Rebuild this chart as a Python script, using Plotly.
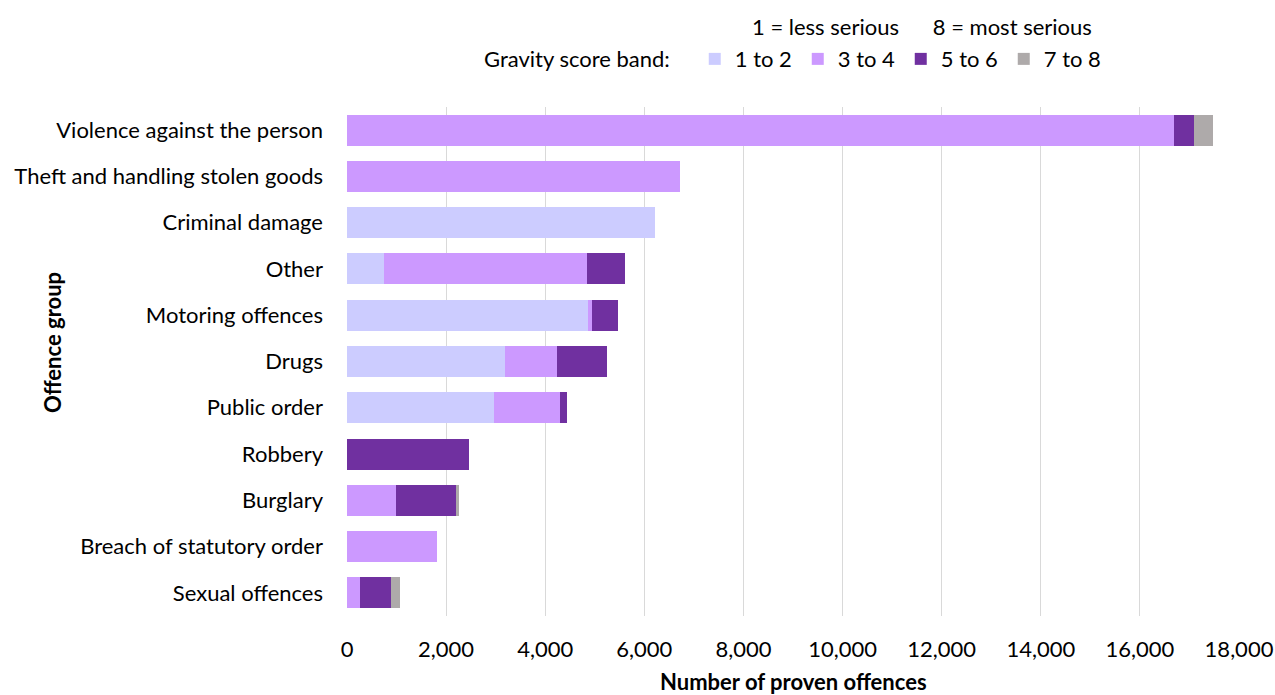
import plotly.graph_objects as go

categories = ["Violence against the person", "Theft and handling stolen goods", "Criminal damage",
              "Other", "Motoring offences", "Drugs", "Public order", "Robbery", "Burglary",
              "Breach of statutory order", "Sexual offences"]
band_names = ["1 to 2", "3 to 4", "5 to 6", "7 to 8"]
band_1_2 = [0, 0, 6224, 746, 4866, 3185, 2964, 0, 0, 0, 0]
band_3_4 = [16694, 6728, 0, 4093, 87, 1049, 1330, 0, 981, 1808, 269]
band_5_6 = [403, 0, 0, 780, 525, 1008, 148, 2460, 1223, 0, 618]
band_7_8 = [383, 0, 0, 0, 0, 0, 0, 0, 54, 0, 175]
colors = ["#CCCCFF", "#CC99FF", "#7030A0", "#AEAAAA"]
x_ticks = list(range(0, 18001, 2000))

FONT = "Lato"
FS = 22
fig = go.Figure()
for name, vals, col in zip(band_names, [band_1_2, band_3_4, band_5_6, band_7_8], colors):
    fig.add_trace(go.Bar(y=categories, x=vals, name=name, orientation="h",
                         marker=dict(color=col, line=dict(width=0))))

L, R, T, B = 347, 36, 107, 79
PW, PH = 1275 - L - R, 695 - T - B

fig.update_layout(
    barmode="stack",
    bargap=0.33,
    width=1275, height=695,
    margin=dict(l=L, r=R, t=T, b=B, autoexpand=False),
    paper_bgcolor="white", plot_bgcolor="white",
    font=dict(family=FONT, size=FS, color="#000000"),
    xaxis=dict(range=[0, 18000], tickvals=x_ticks, tickformat=",d", automargin=False,
               showgrid=True, gridcolor="#D9D9D9", gridwidth=1, zeroline=False,
               showline=False, ticks="", ticklabelstandoff=18),
    yaxis=dict(categoryorder="array", categoryarray=categories, autorange="reversed",
               automargin=False,
               showgrid=False, showline=False, ticks="", ticklabelstandoff=23),
    legend=dict(orientation="h", x=(482 - L) / PW, xanchor="left", y=0.915, yanchor="middle",
                yref="container", traceorder="normal",
                title=dict(text="Gravity score band:   ", side="left", font=dict(size=FS)),
                font=dict(size=FS), itemwidth=30, entrywidth=58, entrywidthmode="pixels"),
    showlegend=True,
)
fig.add_annotation(text="1 = less serious      8 = most serious", xref="paper", yref="paper",
                   x=(922 - L) / PW, y=(695 - B - 27) / PH, xanchor="center", yanchor="middle",
                   showarrow=False, font=dict(size=FS))
fig.add_annotation(text="<b>Number of proven offences</b>", xref="paper", yref="paper",
                   x=0.5, y=(695 - B - 681) / PH, xanchor="center", yanchor="middle",
                   showarrow=False, font=dict(size=FS))
fig.add_annotation(text="<b>Offence group</b>", xref="paper", yref="paper", textangle=-90,
                   x=(52 - L) / PW, y=(695 - B - 343) / PH, xanchor="center", yanchor="middle",
                   showarrow=False, font=dict(size=FS))

fig.write_html("out.html")
